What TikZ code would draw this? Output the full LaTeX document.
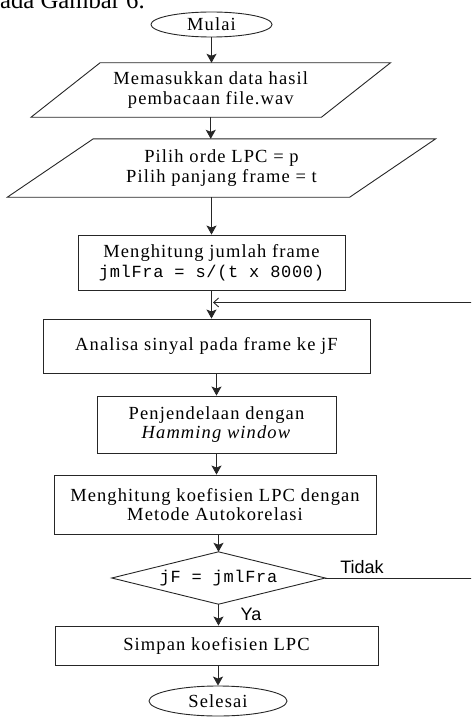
\documentclass[tikz,border=0pt]{standalone}
\usepackage{fontspec}
\setmainfont{Liberation Serif}
\newfontfamily\flowserif[LetterSpace=6]{Liberation Serif}
\newfontfamily\flowmono[LetterSpace=4]{Liberation Mono}
\newfontfamily\flowsans{Liberation Sans}
\usetikzlibrary{shapes.geometric,arrows.meta,calc}

% text styles used inside the flowchart shapes
\newcommand{\boxtext}{\flowserif\fontsize{18.5}{19.5}\selectfont}
\newcommand{\codetext}{\flowmono\fontsize{17}{19.5}\selectfont}

% parallelogram (input/output) drawn around an invisible node
\newcommand{\ioframe}[2]{%
  \draw[line] ([xshift=#2]#1.north west) -- ([xshift=#2]#1.north east)
    -- ([xshift=-#2]#1.south east) -- ([xshift=-#2]#1.south west) -- cycle;}

\begin{document}
\begin{tikzpicture}[x=1pt,y=-1pt,
  line/.style={draw=black!85, line width=0.9pt},
  arr/.style={line, -{Stealth[length=9pt,width=10pt,inset=2pt]}},
  loopin/.style={line, -{Straight Barb[length=5pt,width=9pt]}},
  box/.style={line, rectangle, align=center, inner sep=0pt, font=\boxtext},
  iotext/.style={rectangle, align=center, inner sep=0pt, font=\boxtext},
  term/.style={line, ellipse, inner sep=0pt, font=\boxtext},
  lbl/.style={inner sep=0pt, font=\flowsans\fontsize{18}{20}\selectfont}]

\useasboundingbox (0,0) rectangle (471,717);
\clip (0,0) rectangle (471,717);

% running text above the chart
\node[anchor=base west, inner sep=0pt, font=\fontsize{24.7}{28}\selectfont]
  (caption) at (-12.5,8.5) {pada Gambar 6.};

% start
\node[term, minimum width=121, minimum height=25] (mulai) at (211.5,24.5) {Mulai};

% inputs
\node[iotext, minimum width=290, minimum height=54] (p1) at (210.75,90)
  {Memasukkan data hasil\\pembacaan file.wav};
\ioframe{p1}{34.5}
\node[iotext, minimum width=342, minimum height=58] (p2) at (221.5,168)
  {Pilih orde LPC = p\\Pilih panjang frame = t};
\ioframe{p2}{43}

% processing steps
\node[box, minimum width=267, minimum height=55] (b1) at (211.5,262.5)
  {Menghitung jumlah frame\\{\codetext jmlFra = s/(t x 8000)}};
\node[box, minimum width=327, minimum height=54] (b2) at (206.5,346)
  {Analisa sinyal pada frame ke jF};
\node[box, minimum width=239, minimum height=57] (b3) at (216.5,424.5)
  {Penjendelaan dengan\\\textit{Hamming window}};
\node[box, minimum width=322, minimum height=59] (b4) at (215,504.5)
  {Menghitung koefisien LPC dengan\\Metode Autokorelasi};

% decision
\node[iotext, minimum width=213, minimum height=52] (dec) at (218.5,578)
  {\codetext jF = jmlFra};
\draw[line] (dec.west) -- (dec.north) -- (dec.east) -- (dec.south) -- cycle;
\node[lbl] (tidak) at (362,567) {Tidak};
\node[lbl] (ya) at (251,614) {Ya};

% output and end
\node[box, minimum width=323, minimum height=39] (b5) at (216.5,645.5)
  {Simpan koefisien LPC};
\node[term, minimum width=138, minimum height=30] (selesai) at (218,701) {Selesai};

% flow
\draw[arr] (mulai.south) -- (mulai.south |- p1.north);
\draw[arr] (p1.south) -- (p1.south |- p2.north);
\draw[arr] (b1.north |- p2.south) -- (b1.north);
\draw[arr] (b1.south) -- (b1.south |- b2.north);
\draw[arr] (b2.south -| b3.north) -- (b3.north);
\draw[arr] (b3.south) -- (b3.south |- b4.north);
\draw[arr] (b4.south -| dec.north) -- (dec.north);
\draw[arr] (dec.south) -- (dec.south |- b5.north);
\draw[arr] (b5.south -| selesai.north) -- (selesai.north);

% loop back for the next frame
\coordinate (join) at ($(b1.south)+(1.5,12)$);
\draw[loopin] (dec.east) -- ++(170,0) |- (join);

\end{tikzpicture}
\end{document}
